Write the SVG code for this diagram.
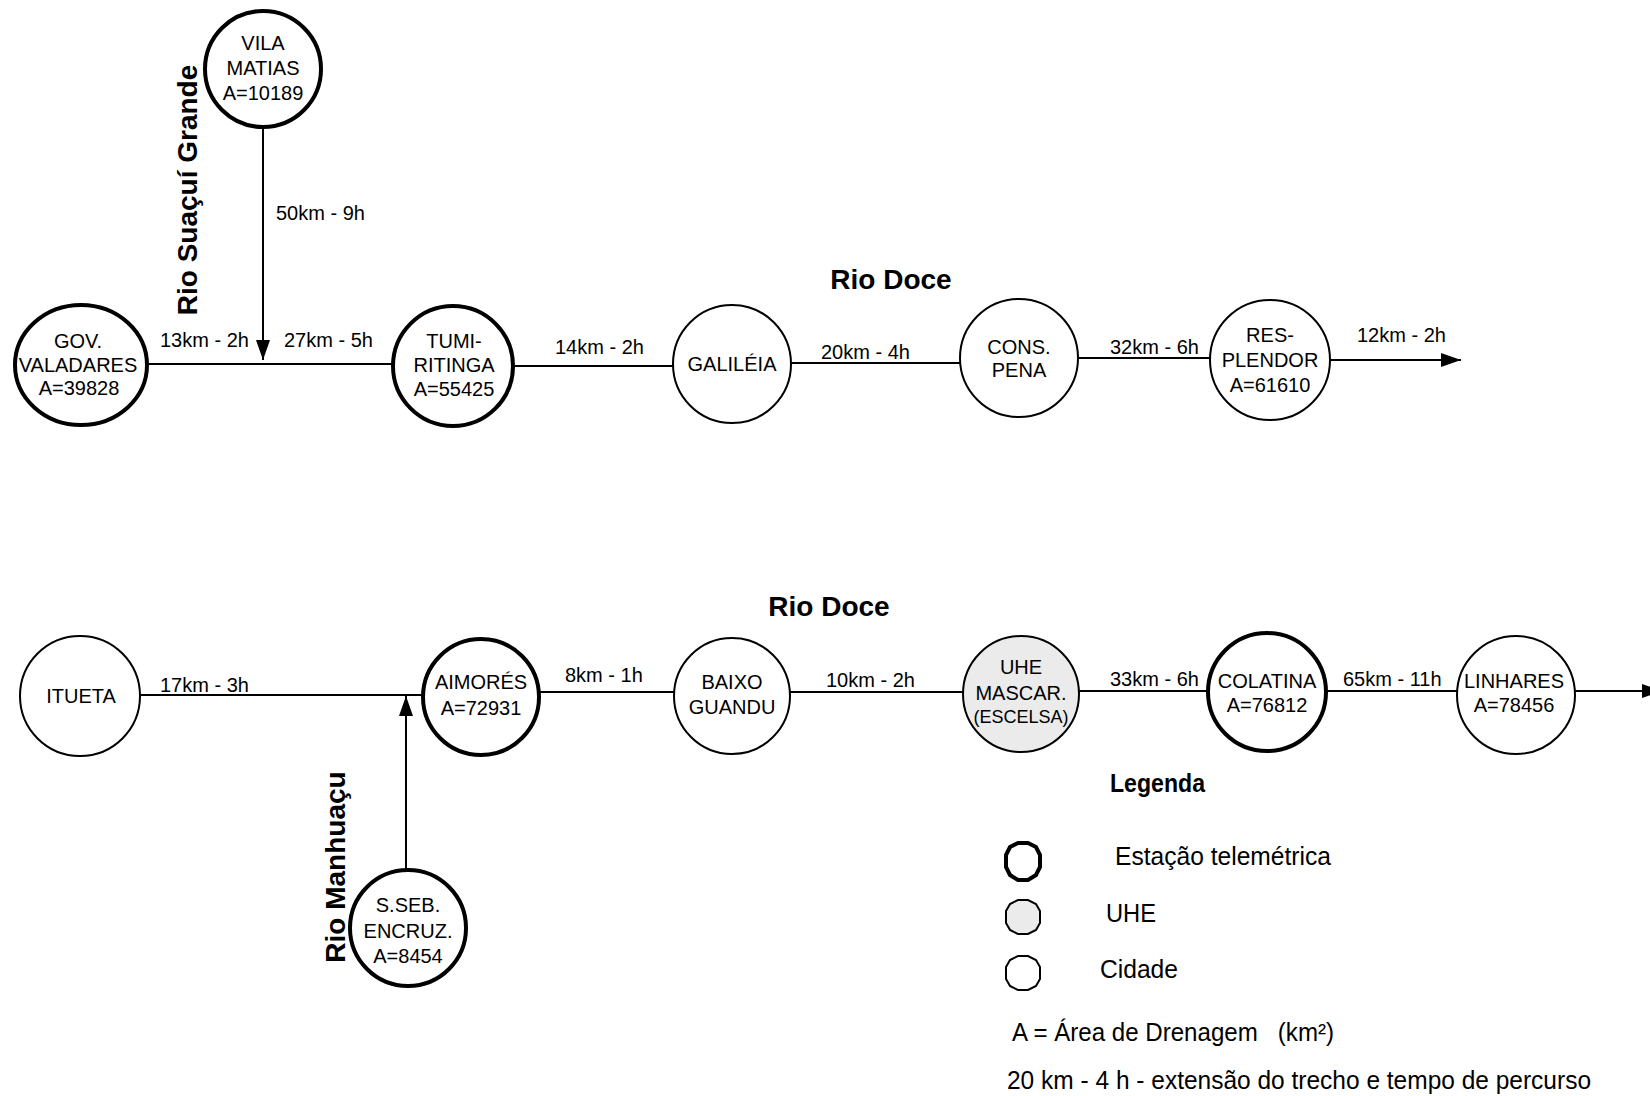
<svg xmlns="http://www.w3.org/2000/svg" width="1650" height="1096" viewBox="0 0 1650 1096">
<style>
text{font-family:"Liberation Sans",Arial,sans-serif;fill:#000}
.n{font-size:20px;text-anchor:middle}
.e{font-size:20px}
.t{font-size:28px;font-weight:bold}
.lg{font-size:25px}
.thick{fill:#fff;stroke:#000;stroke-width:4}
.thin{fill:#fff;stroke:#000;stroke-width:2}
.uhe{fill:#ebebeb;stroke:#000;stroke-width:2}
.c{stroke:#000;stroke-width:2;fill:none}
</style>
<defs>
<marker id="ah" markerUnits="userSpaceOnUse" markerWidth="20" markerHeight="14" refX="20" refY="7" orient="auto">
<path d="M0,0 L20,7 L0,14 z" fill="#000"/>
</marker>
</defs>
<rect width="1650" height="1096" fill="#fff"/>

<g id="connectors">
<path class="c" d="M263,127 L263,360" marker-end="url(#ah)"/>
<path class="c" d="M147,364 L393,364"/>
<path class="c" d="M513,366 L673,366"/>
<path class="c" d="M791,363 L960,363"/>
<path class="c" d="M1078,358 L1210,358"/>
<path class="c" d="M1330,360 L1461,360" marker-end="url(#ah)"/>
<path class="c" d="M140,695 L423,695"/>
<path class="c" d="M406,870 L406,696" marker-end="url(#ah)"/>
<path class="c" d="M539,692 L674,692"/>
<path class="c" d="M790,692 L963,692"/>
<path class="c" d="M1079,691 L1207,691"/>
<path class="c" d="M1327,691 L1457,691"/>
<path class="c" d="M1575,691 L1662,691" marker-end="url(#ah)"/>
</g>

<g id="edge-labels">
<text class="e" x="276" y="220">50km - 9h</text>
<text class="e" x="160" y="347">13km - 2h</text>
<text class="e" x="284" y="347">27km - 5h</text>
<text class="e" x="555" y="354">14km - 2h</text>
<text class="e" x="821" y="359">20km - 4h</text>
<text class="e" x="1110" y="354">32km - 6h</text>
<text class="e" x="1357" y="342">12km - 2h</text>
<text class="e" x="160" y="692">17km - 3h</text>
<text class="e" x="565" y="682">8km - 1h</text>
<text class="e" x="826" y="687">10km - 2h</text>
<text class="e" x="1110" y="686">33km - 6h</text>
<text class="e" x="1343" y="686">65km - 11h</text>
</g>

<g id="river-labels">
<text class="t" x="891" y="289" text-anchor="middle">Rio Doce</text>
<text class="t" x="829" y="616" text-anchor="middle">Rio Doce</text>
<text class="t" transform="translate(197,190) rotate(-90)" text-anchor="middle">Rio Suaçuí Grande</text>
<text class="t" transform="translate(345,867) rotate(-90)" text-anchor="middle">Rio Manhuaçu</text>
</g>

<g id="vila-matias">
<circle class="thick" cx="263" cy="69" r="58"/>
<text class="n" x="263" y="50">VILA</text>
<text class="n" x="263" y="75">MATIAS</text>
<text class="n" x="263" y="100">A=10189</text>
</g>
<g id="gov-valadares">
<ellipse class="thick" cx="81" cy="365" rx="66" ry="60"/>
<text class="n" x="78" y="348">GOV.</text>
<text class="n" x="78" y="372">VALADARES</text>
<text class="n" x="79" y="395">A=39828</text>
</g>
<g id="tumiritinga">
<circle class="thick" cx="453" cy="366" r="60"/>
<text class="n" x="454" y="348">TUMI-</text>
<text class="n" x="454" y="372">RITINGA</text>
<text class="n" x="454" y="396">A=55425</text>
</g>
<g id="galileia">
<circle class="thin" cx="732" cy="364" r="59"/>
<text class="n" x="732" y="371">GALILÉIA</text>
</g>
<g id="cons-pena">
<circle class="thin" cx="1019" cy="358" r="59"/>
<text class="n" x="1019" y="354">CONS.</text>
<text class="n" x="1019" y="377">PENA</text>
</g>
<g id="resplendor">
<circle class="thin" cx="1270" cy="360" r="60"/>
<text class="n" x="1270" y="342">RES-</text>
<text class="n" x="1270" y="367">PLENDOR</text>
<text class="n" x="1270" y="392">A=61610</text>
</g>
<g id="itueta">
<circle class="thin" cx="80" cy="696" r="60"/>
<text class="n" x="81" y="703">ITUETA</text>
</g>
<g id="aimores">
<circle class="thick" cx="481" cy="697" r="58"/>
<text class="n" x="481" y="689">AIMORÉS</text>
<text class="n" x="481" y="715">A=72931</text>
</g>
<g id="ssebastiao">
<circle class="thick" cx="408" cy="928" r="58"/>
<text class="n" x="408" y="912">S.SEB.</text>
<text class="n" x="408" y="938">ENCRUZ.</text>
<text class="n" x="408" y="963">A=8454</text>
</g>
<g id="baixo-guandu">
<circle class="thin" cx="732" cy="696" r="58"/>
<text class="n" x="732" y="689">BAIXO</text>
<text class="n" x="732" y="714">GUANDU</text>
</g>
<g id="uhe-mascarenhas">
<circle class="uhe" cx="1021" cy="694" r="58"/>
<text class="n" x="1021" y="674">UHE</text>
<text class="n" x="1021" y="700">MASCAR.</text>
<text class="n" x="1021" y="723" style="font-size:18px">(ESCELSA)</text>
</g>
<g id="colatina">
<circle class="thick" cx="1267" cy="692" r="59"/>
<text class="n" x="1267" y="688">COLATINA</text>
<text class="n" x="1267" y="712">A=76812</text>
</g>
<g id="linhares">
<circle class="thin" cx="1516" cy="695" r="59"/>
<text class="n" x="1514" y="688">LINHARES</text>
<text class="n" x="1514" y="712">A=78456</text>
</g>

<g id="legend">
<text class="lg" x="1110" y="792" font-weight="bold" textLength="95" lengthAdjust="spacingAndGlyphs">Legenda</text>
<polygon class="thick" points="1018,843 1028,843 1036,847 1040,855 1040,867 1036,875 1028,880 1018,880 1010,875 1006,867 1006,855 1010,847"/>
<text class="lg" x="1115" y="865" textLength="216" lengthAdjust="spacingAndGlyphs">Estação telemétrica</text>
<polygon class="uhe" points="1018,900 1028,900 1036,904 1040,911 1040,923 1036,930 1028,934 1018,934 1010,930 1006,923 1006,911 1010,904"/>
<text class="lg" x="1106" y="922" textLength="50" lengthAdjust="spacingAndGlyphs">UHE</text>
<polygon class="thin" points="1018,956 1028,956 1036,960 1040,967 1040,979 1036,986 1028,990 1018,990 1010,986 1006,979 1006,967 1010,960"/>
<text class="lg" x="1100" y="978" textLength="78" lengthAdjust="spacingAndGlyphs">Cidade</text>
<text class="lg" x="1012" y="1041" textLength="322" lengthAdjust="spacingAndGlyphs" xml:space="preserve">A = Área de Drenagem   (km²)</text>
<text class="lg" x="1007" y="1089" textLength="584" lengthAdjust="spacingAndGlyphs">20 km - 4 h - extensão do trecho e tempo de percurso</text>
</g>
</svg>
